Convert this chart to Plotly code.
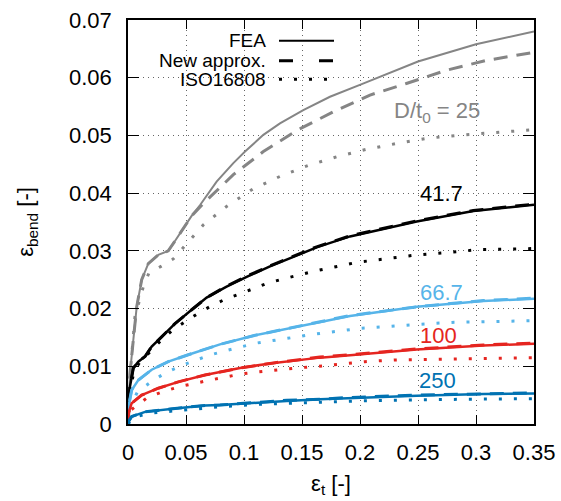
import plotly.graph_objects as go

# ---------------- data ----------------
# D/t0 = 25 (gray)
g_fea_x = [0, 0.001, 0.0017, 0.0046, 0.0075, 0.0118, 0.0175, 0.0261, 0.0347, 0.0405, 0.0477, 0.055, 0.062, 0.0764, 0.0908, 0.1009, 0.1167, 0.131, 0.1511, 0.1741, 0.2015, 0.2172, 0.25, 0.3, 0.35]
g_fea_y = [0, 0.005, 0.0088, 0.0146, 0.0203, 0.025, 0.0278, 0.0293, 0.0300, 0.0317, 0.0340, 0.0361, 0.0379, 0.042, 0.0452, 0.0472, 0.0501, 0.0521, 0.0544, 0.0567, 0.0589, 0.0602, 0.0628, 0.0658, 0.068]
g_new_x = [0, 0.001, 0.0017, 0.0046, 0.0075, 0.0118, 0.0175, 0.0261, 0.0347, 0.0405, 0.0477, 0.055, 0.0649, 0.0908, 0.1167, 0.1468, 0.177, 0.2086, 0.24, 0.2747, 0.309, 0.35]
g_new_y = [0, 0.005, 0.0088, 0.0146, 0.0203, 0.025, 0.0278, 0.0293, 0.0300, 0.0317, 0.0340, 0.0361, 0.0382, 0.0432, 0.0472, 0.051, 0.0541, 0.057, 0.059, 0.0613, 0.063, 0.0644]
g_iso_x = [0, 0.002, 0.006, 0.0132, 0.0181, 0.0284, 0.039, 0.0477, 0.0563, 0.0649, 0.085, 0.1075, 0.131, 0.1554, 0.18, 0.2057, 0.2316, 0.2575, 0.2833, 0.309, 0.335, 0.35]
g_iso_y = [0, 0.009, 0.0186, 0.0238, 0.0262, 0.0273, 0.0286, 0.0306, 0.0325, 0.0345, 0.0377, 0.0407, 0.0429, 0.0448, 0.0463, 0.0476, 0.0486, 0.0495, 0.05, 0.0504, 0.0508, 0.051]

# D/t0 = 41.7 (black)
k_fea_x = [0, 0.0004, 0.0009, 0.0017, 0.0046, 0.0089, 0.0147, 0.0204, 0.029, 0.0405, 0.0549, 0.0678, 0.085, 0.1023, 0.1224, 0.1425, 0.1626, 0.1914, 0.2489, 0.2977, 0.35]
k_fea_y = [0, 0.0007, 0.0042, 0.0065, 0.0097, 0.0108, 0.0117, 0.0134, 0.0151, 0.0174, 0.0198, 0.0219, 0.0238, 0.0255, 0.0273, 0.029, 0.0306, 0.0325, 0.0351, 0.0369, 0.038]
k_new_x = [0, 0.0004, 0.0009, 0.0017, 0.0046, 0.0089, 0.0147, 0.0204, 0.029, 0.0405, 0.0549, 0.0678, 0.085, 0.1023, 0.1224, 0.1425, 0.1626, 0.1914, 0.2489, 0.2977, 0.35]
k_new_y = [0, 0.0007, 0.0042, 0.0065, 0.0097, 0.0108, 0.0117, 0.0134, 0.0151, 0.0174, 0.0198, 0.0219, 0.0239, 0.0256, 0.0274, 0.0291, 0.0307, 0.0326, 0.0352, 0.037, 0.0381]
k_iso_x = [0, 0.002, 0.005, 0.0103, 0.019, 0.029, 0.0385, 0.049, 0.0606, 0.0721, 0.0836, 0.0957, 0.108, 0.1204, 0.133, 0.1459, 0.1588, 0.197, 0.223, 0.2489, 0.2747, 0.302, 0.3278, 0.35]
k_iso_y = [0, 0.006, 0.009, 0.0108, 0.0125, 0.0146, 0.0163, 0.0177, 0.0192, 0.0205, 0.0216, 0.0225, 0.0235, 0.0244, 0.0251, 0.0258, 0.0264, 0.028, 0.0287, 0.0293, 0.0297, 0.0302, 0.0303, 0.0304]

# D/t0 = 66.7 (light blue)
l_fea_x = [0, 0.0004, 0.0032, 0.0089, 0.0204, 0.0347, 0.052, 0.0664, 0.0793, 0.108, 0.1368, 0.1655, 0.1914, 0.2489, 0.3063, 0.35]
l_fea_y = [0, 0.003, 0.0059, 0.0076, 0.0094, 0.0108, 0.012, 0.0129, 0.0138, 0.0153, 0.0165, 0.0177, 0.0187, 0.0203, 0.0213, 0.0217]
l_new_y = [0, 0.003, 0.0059, 0.0076, 0.0094, 0.0108, 0.012, 0.0129, 0.0138, 0.0153, 0.0165, 0.0177, 0.0188, 0.0203, 0.0214, 0.0218]
l_iso_x = [0, 0.002, 0.008, 0.0218, 0.0347, 0.0471, 0.0592, 0.0713, 0.0845, 0.0971, 0.11, 0.123, 0.136, 0.1489, 0.1618, 0.2014, 0.2273, 0.253, 0.279, 0.3063, 0.332, 0.35]
l_iso_y = [0, 0.003, 0.0055, 0.0076, 0.0091, 0.0102, 0.0111, 0.012, 0.0127, 0.0134, 0.014, 0.0144, 0.0148, 0.0153, 0.0156, 0.0166, 0.017, 0.0173, 0.0176, 0.0177, 0.0179, 0.0179]

# D/t0 = 100 (red)
r_fea_x = [0, 0.0004, 0.0032, 0.0118, 0.0261, 0.0434, 0.0664, 0.0966, 0.1224, 0.1483, 0.1655, 0.1914, 0.2489, 0.3063, 0.35]
r_fea_y = [0, 0.0019, 0.0036, 0.005, 0.0062, 0.0073, 0.0085, 0.0097, 0.0105, 0.0111, 0.0115, 0.0119, 0.0129, 0.0136, 0.0139]
r_new_y = [0, 0.0019, 0.0036, 0.005, 0.0062, 0.0073, 0.0085, 0.0097, 0.0105, 0.0112, 0.0116, 0.012, 0.013, 0.0137, 0.014]
r_iso_x = [0, 0.003, 0.0175, 0.0347, 0.0471, 0.0597, 0.073, 0.0856, 0.0985, 0.1114, 0.1247, 0.1377, 0.1511, 0.164, 0.2043, 0.23, 0.256, 0.2819, 0.309, 0.335, 0.35]
r_iso_y = [0, 0.0025, 0.0047, 0.0059, 0.0066, 0.0072, 0.0077, 0.0082, 0.0087, 0.009, 0.0093, 0.0096, 0.0098, 0.01, 0.0108, 0.0111, 0.0112, 0.0113, 0.0114, 0.0115, 0.0115]

# D/t0 = 250 (dark blue)
b_fea_x = [0, 0.0004, 0.0032, 0.0147, 0.0405, 0.0664, 0.0793, 0.108, 0.1368, 0.1655, 0.1914, 0.2489, 0.3063, 0.35]
b_fea_y = [0, 0.0004, 0.0013, 0.0021, 0.0027, 0.0032, 0.0033, 0.0037, 0.004, 0.0043, 0.0045, 0.0049, 0.0052, 0.0053]
b_new_y = [0, 0.0004, 0.0013, 0.0021, 0.0027, 0.0032, 0.0033, 0.0037, 0.0041, 0.0043, 0.0046, 0.005, 0.0053, 0.0054]
b_iso_x = [0, 0.005, 0.02, 0.05, 0.08, 0.11, 0.14, 0.17, 0.2, 0.25, 0.3, 0.35]
b_iso_y = [0, 0.0012, 0.0019, 0.0025, 0.003, 0.0034, 0.0036, 0.0038, 0.004, 0.0042, 0.0043, 0.0044]

x_ticks = [0, 0.05, 0.1, 0.15, 0.2, 0.25, 0.3, 0.35]
x_tick_text = ["0", "0.05", "0.1", "0.15", "0.2", "0.25", "0.3", "0.35"]
y_ticks = [0, 0.01, 0.02, 0.03, 0.04, 0.05, 0.06, 0.07]
y_tick_text = ["0", "0.01", "0.02", "0.03", "0.04", "0.05", "0.06", "0.07"]

legend_labels = ["FEA", "New approx.", "ISO16808"]
series_labels = ["D/t<sub>0</sub> = 25", "41.7", "66.7", "100", "250"]

GRAY = "#858585"
BLACK = "#000000"
LBLUE = "#56B4E9"
RED = "#E52520"
DBLUE = "#0072B2"

FONT = "Liberation Sans, Arial, Helvetica, sans-serif"
DOT = "3px,12px"
DASH = "14px,9px"

fig = go.Figure()

series = [
    (GRAY, g_fea_x, g_fea_y, g_new_x, g_new_y, g_iso_x, g_iso_y, 2),
    (BLACK, k_fea_x, k_fea_y, k_new_x, k_new_y, k_iso_x, k_iso_y, 2.5),
    (LBLUE, l_fea_x, l_fea_y, l_fea_x, l_new_y, l_iso_x, l_iso_y, 2.5),
    (RED, r_fea_x, r_fea_y, r_fea_x, r_new_y, r_iso_x, r_iso_y, 2.5),
    (DBLUE, b_fea_x, b_fea_y, b_fea_x, b_new_y, b_iso_x, b_iso_y, 2.5),
]

for col, fx, fy, nx, ny, ix, iy, w in series:
    fig.add_trace(go.Scatter(x=ix, y=iy, mode="lines", showlegend=False,
                             line=dict(color=col, width=3, dash=DOT)))
    fig.add_trace(go.Scatter(x=nx, y=ny, mode="lines", showlegend=False,
                             line=dict(color=col, width=3, dash=DASH)))
    fig.add_trace(go.Scatter(x=fx, y=fy, mode="lines", showlegend=False,
                             line=dict(color=col, width=w)))

# series labels
label_pos = [(0.2664, 0.0540, GRAY), (0.2705, 0.0400, BLACK), (0.2705, 0.0228, LBLUE),
             (0.268, 0.0154, RED), (0.267, 0.0075, DBLUE)]
for txt, (lx, ly, col) in zip(series_labels, label_pos):
    fig.add_annotation(x=lx, y=ly, xref="x", yref="y", text=txt, showarrow=False,
                       font=dict(family=FONT, size=22, color=col), xanchor="center", yanchor="middle")

# custom legend (text left of sample, as in the reference)
L = dict(l=128, r=27, t=20, b=77)
W, H = 561, 501
pw, ph = W - L["l"] - L["r"], H - L["t"] - L["b"]
def px_to_paper(px, py):
    return (px - L["l"]) / pw, 1 - (py - L["t"]) / ph

leg_rows = [(40.7, "solid"), (60.7, "14px,26px"), (79.3, DOT)]
for lab, (py, dash) in zip(legend_labels, leg_rows):
    tx, ty = px_to_paper(268, py)
    fig.add_annotation(x=tx, y=ty, xref="paper", yref="paper", text=lab, showarrow=False,
                       font=dict(family=FONT, size=19, color="black"), xanchor="right", yanchor="middle")
    x0, y0 = px_to_paper(279, py)
    x1, _ = px_to_paper(334, py)
    fig.add_shape(type="line", xref="paper", yref="paper", x0=x0, x1=x1, y0=y0, y1=y0,
                  line=dict(color="black", width=2 if dash == "solid" else 3, dash=dash))

axis_common = dict(showline=True, linecolor="black", linewidth=1.5, mirror="allticks",
                   ticks="inside", tickcolor="black", tickwidth=1.2, automargin=False,
                   showgrid=True, gridcolor="#666666", gridwidth=1, griddash="1px,4px",
                   zeroline=False, tickfont=dict(family=FONT, size=22, color="black"))

fig.update_xaxes(range=[0, 0.35], tickvals=x_ticks, ticktext=x_tick_text, ticklen=9,
                 ticklabelstandoff=8,
                 title=dict(text="ε<sub>t</sub> [-]", font=dict(family=FONT, size=22, color="black"), standoff=11),
                 **axis_common)
fig.update_yaxes(range=[0, 0.07], tickvals=y_ticks, ticktext=y_tick_text, ticklen=11,
                 ticklabelstandoff=10,
                 title=dict(text="ε<sub>bend</sub> [-]", font=dict(family=FONT, size=22, color="black"), standoff=29),
                 **axis_common)

fig.update_layout(width=W, height=H, margin=L, plot_bgcolor="white", paper_bgcolor="white",
                  showlegend=False)

fig.write_html("out.html", config={"displayModeBar": False},
               post_script="document.body.style.margin='0px';")
